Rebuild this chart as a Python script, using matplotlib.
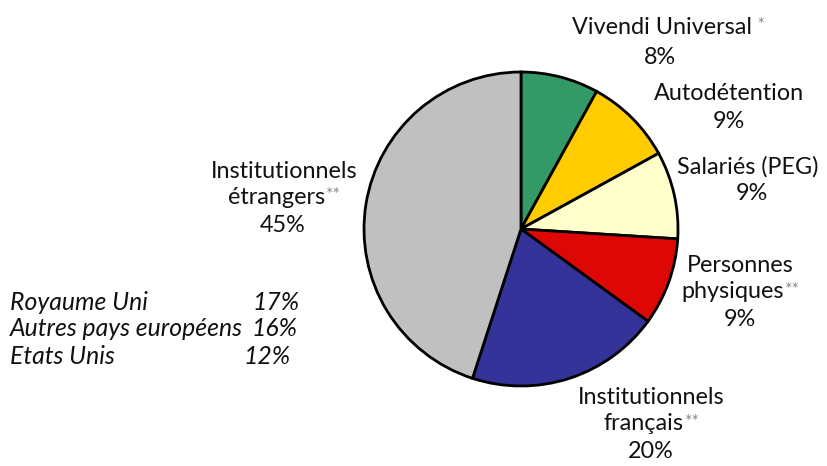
import matplotlib
matplotlib.use("Agg")
import matplotlib.pyplot as plt

labels = ["Vivendi Universal", "Autodétention", "Salariés (PEG)", "Personnes physiques",
          "Institutionnels français", "Institutionnels étrangers"]
values = [8, 9, 9, 9, 20, 45]
colors = ["#339966", "#FFCC00", "#FFFFCC", "#DD0806", "#333399", "#C0C0C0"]

breakdown_labels = ["Royaume Uni", "Autres pays européens", "Etats Unis"]
breakdown_values = [17, 16, 12]

plt.rcParams['font.family'] = ['Lato', 'DejaVu Sans']

W, H = 827, 466
fig = plt.figure(figsize=(W / 100, H / 100), dpi=100)
ax = fig.add_axes([0, 0, 1, 1])
ax.set_xlim(0, W)
ax.set_ylim(0, H)
ax.set_aspect('equal')
ax.axis('off')

ax.pie(values, colors=colors, startangle=90, counterclock=False,
       center=(521, H - 229), radius=157,
       wedgeprops=dict(edgecolor='black', linewidth=2))
ax.set_xlim(0, W)
ax.set_ylim(0, H)

FS = 16.8
def Y(py):
    return H - py

def line(x, py, s, star=None):
    t = ax.text(x, Y(py), s, ha='center', va='center', fontsize=FS, color='#111111')
    if star:
        ax.annotate(star, xy=(1.0, 0.98), xycoords=t, ha='left', va='top',
                    fontsize=FS * 0.75, color='#8a8a8a', xytext=(0.5, 0),
                    textcoords='offset points')
    return t

# Vivendi
line(662, 27, "Vivendi Universal", star=" *")
line(660, 57, f"{values[0]}%")
# Autodétention
line(729, 94, "Autodétention")
line(729, 122, f"{values[1]}%")
# Salariés
line(748, 167, "Salariés (PEG)")
line(752, 193, f"{values[2]}%")
# Personnes physiques
line(740, 266, "Personnes")
line(733, 292, "physiques", star="**")
line(740, 320, f"{values[3]}%")
# Institutionnels français
line(651, 398, "Institutionnels")
line(644, 424, "français", star="**")
line(651, 452, f"{values[4]}%")
# Institutionnels étrangers
line(284, 171, "Institutionnels")
line(277, 197, "étrangers", star="**")
line(283, 225, f"{values[5]}%")

# breakdown
rows_y = [303, 329, 356]
rights = [300, 297, 291]
for lab, v, py, rx in zip(breakdown_labels, breakdown_values, rows_y, rights):
    ax.text(10, Y(py), lab, ha='left', va='center', fontsize=FS + 1.0, style='italic', color='#111111')
    ax.text(rx, Y(py), f"{v}%", ha='right', va='center', fontsize=FS + 1.0, style='italic', color='#111111')

fig.savefig("out.png", dpi=100)
